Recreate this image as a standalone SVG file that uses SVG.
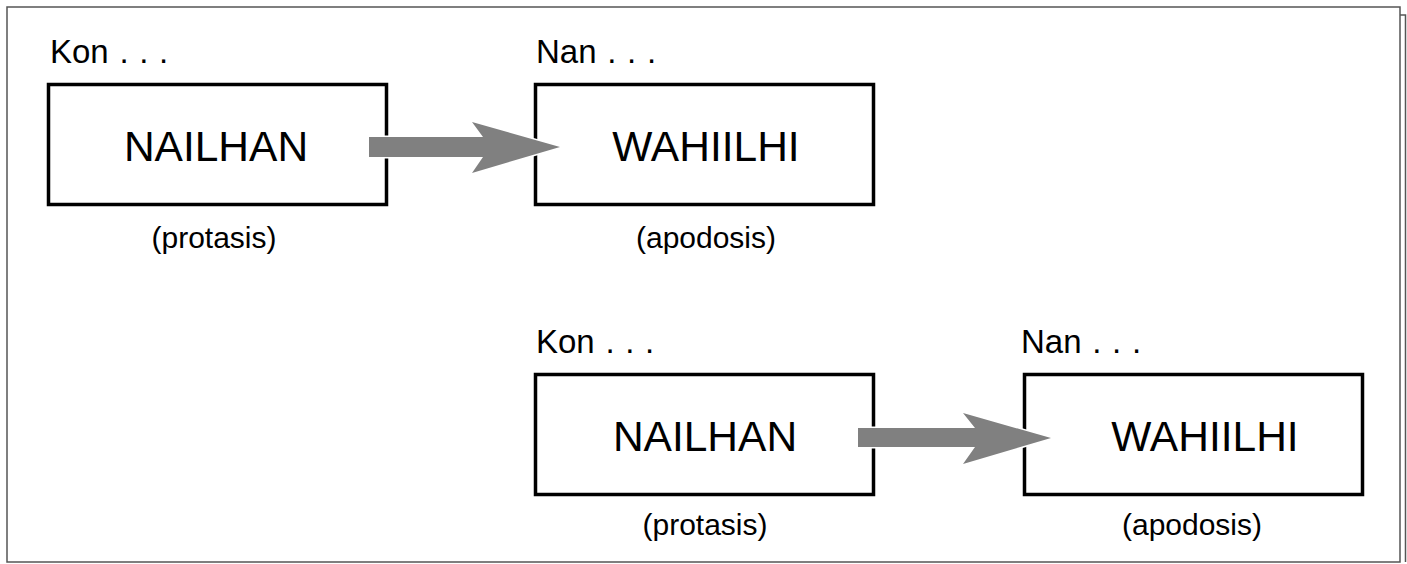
<svg xmlns="http://www.w3.org/2000/svg" width="1407" height="564" viewBox="0 0 1407 564">
<style>
.box{fill:#fff;stroke:#000;stroke-width:3.5}
.t{font-family:"Liberation Sans",Arial,sans-serif;fill:#000}
.big{font-size:42.5px;text-anchor:middle}
.lab{font-size:33px;word-spacing:1.5px}
.sub{font-size:30px;text-anchor:middle}
.arr{fill:#808080;stroke:#fff;stroke-width:3;paint-order:stroke}
</style>
<rect x="0" y="0" width="1407" height="564" fill="#fff"/>
<rect x="7" y="7" width="1393" height="555" fill="none" stroke="#555" stroke-width="1.5"/>
<polyline points="1400,15 1405.5,15 1405.5,562" fill="none" stroke="#555" stroke-width="1.5"/>
<g id="n1">
<text class="t lab" x="50" y="63">Kon . . .</text>
<rect class="box" x="48.5" y="84.5" width="338" height="120"/>
<text class="t big" x="216" y="161">NAILHAN</text>
<text class="t sub" x="214" y="248">(protasis)</text>
</g>
<g id="n2">
<text class="t lab" x="536" y="63">Nan . . .</text>
<rect class="box" x="535.5" y="84.5" width="338" height="120"/>
<text class="t big" x="706" y="161">WAHIILHI</text>
<text class="t sub" x="706" y="248">(apodosis)</text>
</g>
<g id="n3">
<text class="t lab" x="536" y="353">Kon . . .</text>
<rect class="box" x="535.5" y="374.5" width="338" height="120"/>
<text class="t big" x="705" y="451">NAILHAN</text>
<text class="t sub" x="705" y="535">(protasis)</text>
</g>
<g id="n4">
<text class="t lab" x="1021" y="353">Nan . . .</text>
<rect class="box" x="1024.5" y="374.5" width="338" height="120"/>
<text class="t big" x="1205" y="451">WAHIILHI</text>
<text class="t sub" x="1192" y="535">(apodosis)</text>
</g>
<g id="connectors">
<polygon class="arr" points="369,137 483,137 472,122 560,147 472,173 483,157 369,157"/>
<polygon class="arr" points="858,428 975,428 963,413 1051,438 963,464 975,447 858,447"/>
</g>
</svg>
